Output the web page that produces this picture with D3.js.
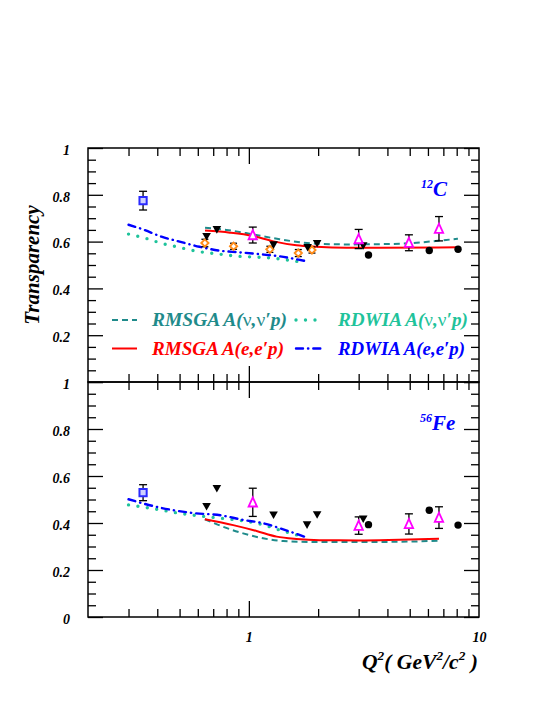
<!DOCTYPE html>
<html>
<head>
<meta charset="utf-8">
<script src="https://d3js.org/d3.v7.min.js"></script>
<style>
  body { margin: 0; background: #fff; }
  text { font-family: "Liberation Serif", "Times New Roman", serif; font-weight: bold; font-style: italic; }
</style>
</head>
<body>
<div id="chart"></div>
<script>
// ---------- data (x = Q^2 in GeV^2/c^2, y = transparency) ----------
// 12C measurements
const cSquareQ2 = [0.347], cSquareT = [0.775], cSquareErr = [0.04];
const cDiamondQ2 = [0.644, 0.858, 1.234, 1.64, 1.88];
const cDiamondT = [0.594, 0.580, 0.567, 0.551, 0.564];
const cDiamondErr = [0.016, 0.013, 0.013, 0.015, 0.013];
const cTriDownQ2 = [0.655, 0.726, 1.28, 1.80, 1.98, 3.14];
const cTriDownT = [0.621, 0.650, 0.585, 0.574, 0.591, 0.581];
const cCircleQ2 = [3.31, 6.08, 8.11];
const cCircleT = [0.543, 0.562, 0.567];
const cTriUpQ2 = [1.04, 3.0, 4.96, 6.7];
const cTriUpT = [0.628, 0.611, 0.595, 0.655];
const cTriUpErr = [0.034, 0.041, 0.034, 0.052];

// 12C calculations
const cRmsgaNuQ2 = [0.645, 0.8, 1.04, 1.36, 1.96, 2.66, 3.7, 5.18, 7.2, 8.1];
const cRmsgaNuT = [0.659, 0.650, 0.631, 0.610, 0.591, 0.588, 0.589, 0.594, 0.607, 0.612];
const cRmsgaEQ2 = [0.645, 0.827, 1.04, 1.28, 1.61, 1.96, 2.66, 3.7, 8.1];
const cRmsgaET = [0.647, 0.638, 0.624, 0.601, 0.584, 0.578, 0.574, 0.574, 0.576];
const cRdwiaNuQ2 = [0.30, 0.36, 0.41, 0.50, 0.61, 0.75, 0.91, 1.12, 1.36, 1.67];
const cRdwiaNuT = [0.632, 0.613, 0.595, 0.575, 0.557, 0.546, 0.537, 0.533, 0.526, 0.513];
const cRdwiaEQ2 = [0.30, 0.347, 0.417, 0.50, 0.61, 0.75, 0.91, 1.12, 1.36, 1.78];
const cRdwiaET = [0.672, 0.652, 0.621, 0.600, 0.578, 0.561, 0.554, 0.546, 0.537, 0.516];

// 56Fe measurements
const feSquareQ2 = [0.347], feSquareT = [0.529], feSquareErr = [0.034];
const feTriDownQ2 = [0.655, 0.726, 1.28, 1.79, 1.98, 3.14];
const feTriDownT = [0.469, 0.546, 0.433, 0.391, 0.434, 0.416];
const feCircleQ2 = [3.31, 6.08, 8.11];
const feCircleT = [0.393, 0.454, 0.391];
const feTriUpQ2 = [1.04, 3.0, 4.96, 6.7];
const feTriUpT = [0.488, 0.389, 0.396, 0.423];
const feTriUpErr = [0.06, 0.037, 0.043, 0.046];

// 56Fe calculations
const feRmsgaNuQ2 = [0.644, 0.773, 0.944, 1.154, 1.41, 2.0, 3.0, 5.0, 6.7];
const feRmsgaNuT = [0.416, 0.384, 0.356, 0.335, 0.323, 0.319, 0.319, 0.321, 0.325];
const feRmsgaEQ2 = [0.644, 0.855, 1.08, 1.32, 1.61, 2.03, 3.0, 4.5, 6.7];
const feRmsgaET = [0.416, 0.391, 0.366, 0.342, 0.332, 0.327, 0.326, 0.329, 0.333];
const feRdwiaNuQ2 = [0.30, 0.417, 0.50, 0.612, 0.76, 0.93, 1.136, 1.36, 1.67];
const feRdwiaNuT = [0.477, 0.455, 0.441, 0.430, 0.420, 0.410, 0.394, 0.370, 0.345];
const feRdwiaEQ2 = [0.30, 0.417, 0.554, 0.773, 0.944, 1.154, 1.41, 1.75];
const feRdwiaET = [0.501, 0.464, 0.444, 0.431, 0.413, 0.399, 0.373, 0.341];

// axis ticks / labels
const xTickLabels = [1, 10];
const xMinorTicks = [0.3, 0.4, 0.5, 0.6, 0.7, 0.8, 0.9, 2, 3, 4, 5, 6, 7, 8, 9];
const yMajorTicks = [0, 0.2, 0.4, 0.6, 0.8, 1];
const yMinorTicks = [0.05, 0.1, 0.15, 0.25, 0.3, 0.35, 0.45, 0.5, 0.55, 0.65, 0.7, 0.75, 0.85, 0.9, 0.95];
const yLabelsTop = [0.2, 0.4, 0.6, 0.8, 1];
const yLabelsBottom = [0, 0.2, 0.4, 0.6, 0.8, 1];

// legend entries: [model, probe-in-brackets]
const legendModels = ["RMSGA", "RDWIA", "RMSGA", "RDWIA"];
const legendProbes = [["\u03BD", "\u03BD"], ["\u03BD", "\u03BD"], ["e", "e"], ["e", "e"]];

// ---------- layout ----------
const W = 545, H = 705;
const left = 88, right = 479, top1 = 148, mid = 382, bot = 617;

const COL_TEAL = "#1f8b8b", COL_AQUA = "#1fc39b", COL_RED = "#ff0000", COL_BLUE = "#0000ff";
const styles = {
  rmsgaNu: { stroke: COL_TEAL, width: 2, dash: "6,4", cap: "butt" },
  rdwiaNu: { stroke: COL_AQUA, width: 3.4, dash: "0,9.5", cap: "round" },
  rmsgaE:  { stroke: COL_RED,  width: 2, dash: null, cap: "butt" },
  rdwiaE:  { stroke: COL_BLUE, width: 2.4, dash: "7,5,0.3,5", cap: "round" }
};

const svg = d3.select("#chart").append("svg")
  .attr("width", W).attr("height", H)
  .style("display", "block");

const x = d3.scaleLog().domain([0.2, 10]).range([left, right]);
const yTop = d3.scaleLinear().domain([0, 1]).range([mid, top1]);
const yBot = d3.scaleLinear().domain([0, 1]).range([bot, mid]);

function drawAxes(y, labels) {
  const [y0, y1] = y.range();
  const fmt = d => labels.includes(d) ? d3.format("~g")(d) : "";
  const g = svg.append("g");
  // left
  g.append("g").attr("transform", `translate(${left},0)`)
    .call(d3.axisLeft(y).tickValues(yMajorTicks).tickSize(-15).tickPadding(18).tickFormat(fmt));
  g.append("g").attr("transform", `translate(${left},0)`)
    .call(d3.axisLeft(y).tickValues(yMinorTicks).tickSize(-8).tickFormat(""));
  // right
  g.append("g").attr("transform", `translate(${right},0)`)
    .call(d3.axisRight(y).tickValues(yMajorTicks).tickSize(-15).tickFormat(""));
  g.append("g").attr("transform", `translate(${right},0)`)
    .call(d3.axisRight(y).tickValues(yMinorTicks).tickSize(-8).tickFormat(""));
  // top & bottom
  g.append("g").attr("transform", `translate(0,${y1})`)
    .call(d3.axisTop(x).tickValues(xMinorTicks).tickSize(-8).tickFormat(""));
  g.append("g").attr("transform", `translate(0,${y1})`)
    .call(d3.axisTop(x).tickValues([1]).tickSize(-16).tickFormat(""));
  g.append("g").attr("transform", `translate(0,${y0})`)
    .call(d3.axisBottom(x).tickValues(xMinorTicks).tickSize(-8).tickFormat(""));
  g.append("g").attr("transform", `translate(0,${y0})`)
    .call(d3.axisBottom(x).tickValues([1]).tickSize(-16).tickFormat(""));
  g.selectAll(".domain").remove();
  g.selectAll(".tick line").attr("stroke", "#000").attr("stroke-width", 1.3);
  g.selectAll(".tick text").attr("fill", "#000").style("font-size", "14px").attr("dy", "0.45em");
  // frame
  svg.append("rect").attr("x", left).attr("y", y1)
    .attr("width", right - left).attr("height", y0 - y1)
    .attr("fill", "none").attr("stroke", "#000").attr("stroke-width", 1.5);
}

function drawCurve(y, q, t, st) {
  const line = d3.line().x(d => x(d[0])).y(d => y(d[1])).curve(d3.curveMonotoneX);
  svg.append("path").datum(d3.zip(q, t))
    .attr("d", line).attr("fill", "none")
    .attr("stroke", st.stroke).attr("stroke-width", st.width)
    .attr("stroke-dasharray", st.dash).attr("stroke-linecap", st.cap);
}

function drawErrors(y, q, t, e, cap) {
  const rows = d3.zip(q, t, e);
  const g = svg.append("g").attr("stroke", "#000").attr("stroke-width", 1.3);
  g.selectAll("line.v").data(rows).join("line")
    .attr("x1", d => x(d[0])).attr("x2", d => x(d[0]))
    .attr("y1", d => y(d[1] - d[2])).attr("y2", d => y(d[1] + d[2]));
  ["lo", "hi"].forEach((k, i) => {
    g.selectAll("line." + k).data(rows).join("line").attr("class", k)
      .attr("x1", d => x(d[0]) - cap).attr("x2", d => x(d[0]) + cap)
      .attr("y1", d => y(d[1] + (i ? 1 : -1) * d[2])).attr("y2", d => y(d[1] + (i ? 1 : -1) * d[2]));
  });
}

const shapes = {
  triDown: "M-4.3,-3.8L4.3,-3.8L0,3.8Z",
  triUp: "M0,-5L4.2,4.2L-4.2,4.2Z",
  diamond: "M0,-3.6L3.6,0L0,3.6L-3.6,0Z",
  square: "M-3.6,-3.6H3.6V3.6H-3.6Z"
};

function drawMarkers(y, q, t, kind, fill, stroke, sw) {
  const g = svg.append("g");
  const sel = g.selectAll("g").data(d3.zip(q, t)).join("g")
    .attr("transform", d => `translate(${x(d[0])},${y(d[1])})`);
  if (kind === "circle") {
    sel.append("circle").attr("r", 3.7).attr("fill", fill);
  } else {
    sel.append("path").attr("d", shapes[kind]).attr("fill", fill)
      .attr("stroke", stroke).attr("stroke-width", sw);
  }
}

function drawPanel(y, d) {
  drawCurve(y, d.rmsgaNu[0], d.rmsgaNu[1], styles.rmsgaNu);
  drawCurve(y, d.rdwiaNu[0], d.rdwiaNu[1], styles.rdwiaNu);
  drawCurve(y, d.rmsgaE[0], d.rmsgaE[1], styles.rmsgaE);
  drawCurve(y, d.rdwiaE[0], d.rdwiaE[1], styles.rdwiaE);
  drawErrors(y, d.square[0], d.square[1], d.square[2], 4);
  if (d.diamond) drawErrors(y, d.diamond[0], d.diamond[1], d.diamond[2], 3.5);
  drawErrors(y, d.triUp[0], d.triUp[1], d.triUp[2], 4);
  drawMarkers(y, d.square[0], d.square[1], "square", "#cdd0ff", "#2a2aff", 2);
  if (d.diamond) drawMarkers(y, d.diamond[0], d.diamond[1], "diamond", "#fff", "#ff8c1a", 1.9);
  drawMarkers(y, d.triDown[0], d.triDown[1], "triDown", "#000", "none", 0);
  drawMarkers(y, d.circle[0], d.circle[1], "circle", "#000", "none", 0);
  drawMarkers(y, d.triUp[0], d.triUp[1], "triUp", "#fff", "#ff00ff", 1.8);
}

drawAxes(yTop, yLabelsTop);
drawAxes(yBot, yLabelsBottom);

drawPanel(yTop, {
  rmsgaNu: [cRmsgaNuQ2, cRmsgaNuT], rdwiaNu: [cRdwiaNuQ2, cRdwiaNuT],
  rmsgaE: [cRmsgaEQ2, cRmsgaET], rdwiaE: [cRdwiaEQ2, cRdwiaET],
  square: [cSquareQ2, cSquareT, cSquareErr],
  diamond: [cDiamondQ2, cDiamondT, cDiamondErr],
  triDown: [cTriDownQ2, cTriDownT], circle: [cCircleQ2, cCircleT],
  triUp: [cTriUpQ2, cTriUpT, cTriUpErr]
});
drawPanel(yBot, {
  rmsgaNu: [feRmsgaNuQ2, feRmsgaNuT], rdwiaNu: [feRdwiaNuQ2, feRdwiaNuT],
  rmsgaE: [feRmsgaEQ2, feRmsgaET], rdwiaE: [feRdwiaEQ2, feRdwiaET],
  square: [feSquareQ2, feSquareT, feSquareErr],
  triDown: [feTriDownQ2, feTriDownT], circle: [feCircleQ2, feCircleT],
  triUp: [feTriUpQ2, feTriUpT, feTriUpErr]
});

// x tick labels (bottom panel only)
const xl = svg.append("g").attr("transform", `translate(0,${bot})`)
  .call(d3.axisBottom(x).tickValues(xTickLabels).tickSize(0).tickPadding(15).tickFormat(d3.format("d")));
xl.select(".domain").remove();
xl.selectAll("text").attr("fill", "#000").style("font-size", "14px");

// legend
const legendRows = [
  { i: 0, st: styles.rmsgaNu, color: COL_TEAL, lx: 112, tx: 152, y: 320, w: 135 },
  { i: 1, st: styles.rdwiaNu, color: COL_AQUA, lx: 296, tx: 338, y: 320, w: 130 },
  { i: 2, st: styles.rmsgaE, color: COL_RED, lx: 112, tx: 152, y: 348.5, w: 132 },
  { i: 3, st: styles.rdwiaE, color: COL_BLUE, lx: 296, tx: 338, y: 348.5, w: 127 }
];
const lg = svg.append("g");
legendRows.forEach(r => {
  lg.append("line").attr("x1", r.lx).attr("x2", r.lx + 25).attr("y1", r.y).attr("y2", r.y)
    .attr("stroke", r.st.stroke).attr("stroke-width", r.st.width)
    .attr("stroke-dasharray", r.st.dash).attr("stroke-linecap", r.st.cap);
  const [p1, p2] = legendProbes[r.i];
  const greek = p1 !== "e";
  const t = lg.append("text").attr("x", r.tx).attr("y", r.y + 6)
    .attr("fill", r.color).style("font-size", "19px")
    .attr("textLength", r.w).attr("lengthAdjust", "spacingAndGlyphs");
  t.append("tspan").text(legendModels[r.i] + " A(");
  t.append("tspan").style("font-style", greek ? "normal" : "italic").style("font-weight", greek ? "normal" : "bold").text(p1);
  t.append("tspan").text(",");
  t.append("tspan").style("font-style", greek ? "normal" : "italic").style("font-weight", greek ? "normal" : "bold").text(p2);
  t.append("tspan").text("\u2032p)");
});

// nucleus labels
function nucleus(xp, yp, mass, sym) {
  const t = svg.append("text").attr("x", xp).attr("y", yp).attr("fill", COL_BLUE);
  t.append("tspan").attr("dy", -8).style("font-size", "12px").text(mass);
  t.append("tspan").attr("dy", 8).style("font-size", "21px").text(sym);
}
nucleus(421, 196, "12", "C");
nucleus(420, 430, "56", "Fe");

// y title
svg.append("text")
  .attr("transform", "translate(39,265) rotate(-90)")
  .attr("text-anchor", "middle").style("font-size", "21px").attr("fill", "#000")
  .text("Transparency");

// x title
const xt = svg.append("text").attr("x", 362).attr("y", 669).attr("fill", "#000").style("font-size", "21px")
  .attr("textLength", 116).attr("lengthAdjust", "spacingAndGlyphs");
xt.append("tspan").text("Q");
xt.append("tspan").attr("dy", -9).style("font-size", "13px").text("2");
xt.append("tspan").attr("dy", 9).text("( GeV");
xt.append("tspan").attr("dy", -9).style("font-size", "13px").text("2");
xt.append("tspan").attr("dy", 9).text("/c");
xt.append("tspan").attr("dy", -9).style("font-size", "13px").text("2");
xt.append("tspan").attr("dy", 9).text(" )");
</script>
</body>
</html>
